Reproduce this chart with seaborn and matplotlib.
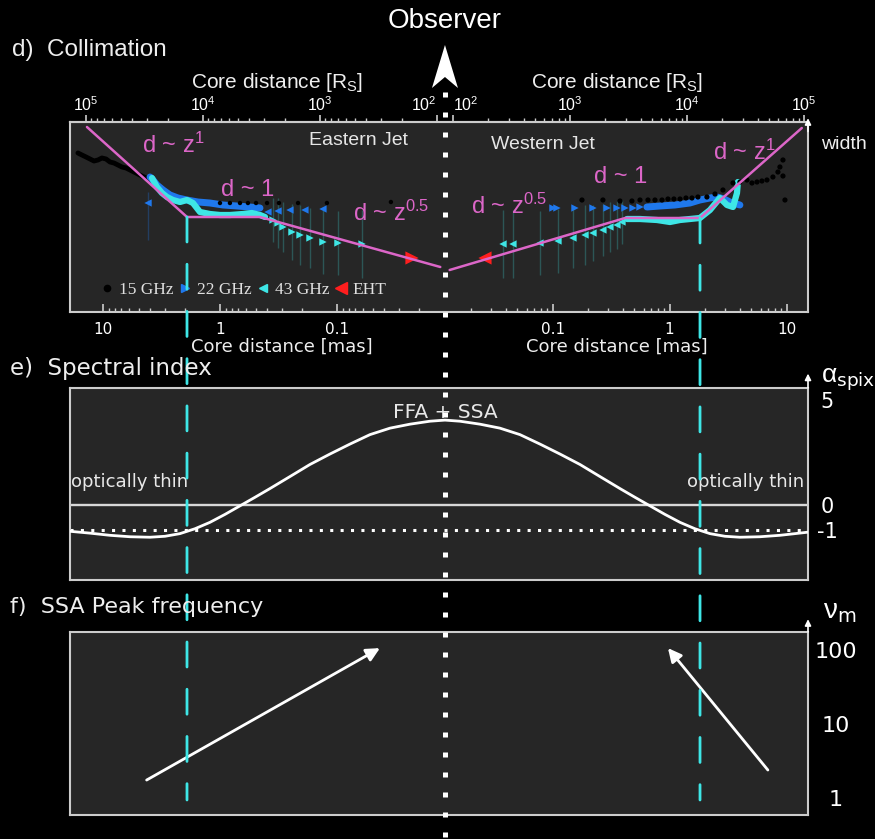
import numpy as np
import pandas as pd
import matplotlib
matplotlib.use("Agg")
import matplotlib.pyplot as plt
import seaborn as sns
from matplotlib.lines import Line2D
from matplotlib.patches import ConnectionPatch, Polygon
from matplotlib.transforms import blended_transform_factory, IdentityTransform
from matplotlib.ticker import FixedLocator, NullLocator

# ---------------------------------------------------------------------------
# Data.  Positions along the jet are in dex from the core
# (negative = eastern jet, positive = western jet); widths are log widths
# in arbitrary units.
# ---------------------------------------------------------------------------
RS_CORE_LOG = 1.93      # log10 core distance [Rs] at the core marker
MAS_CORE_LOG = -1.92    # log10 core distance [mas] at the core marker

rs_major = [1e2, 1e3, 1e4, 1e5]
rs_labels = ["$10^{2}$", "$10^{3}$", "$10^{4}$", "$10^{5}$"]
mas_major = [0.1, 1, 10]
mas_labels = ["0.1", "1", "10"]

# collimation profile model (pink broken power law)
model_east_pos = [-3.06, -2.205, -1.58, -0.04]
model_east_w = [1.85, 0.95, 0.95, 0.45]
model_west_pos = [0.04, 1.54, 2.18, 3.05]
model_west_w = [0.42, 0.94, 0.94, 1.84]

# 15 GHz
east_15_band_pos = [-3.137, -3.103, -3.068, -3.034, -3.0, -2.966, -2.932, -2.897, -2.863,
                    -2.829, -2.795, -2.761, -2.726, -2.692, -2.658, -2.624, -2.59, -2.556, -2.521]
east_15_band_w = [1.59, 1.57, 1.55, 1.53, 1.51, 1.52, 1.54, 1.53, 1.50,
                  1.49, 1.47, 1.45, 1.44, 1.42, 1.40, 1.38, 1.36, 1.34, 1.31]
east_15_pos = [-1.923, -1.838, -1.752, -1.684, -1.615, -1.521, -1.419, -1.256, -1.009, -0.462]
east_15_w = [1.09, 1.09, 1.09, 1.09, 1.09, 1.09, 1.09, 1.09, 1.09, 1.10]
west_15_pos = [1.171, 1.350, 1.496, 1.598, 1.667, 1.735, 1.795, 1.855, 1.906, 1.957, 2.009,
               2.060, 2.111, 2.162, 2.239, 2.308, 2.376, 2.462, 2.521, 2.581, 2.624, 2.667,
               2.709, 2.752, 2.803, 2.846, 2.863, 2.889, 2.889, 2.906]
west_15_w = [1.12, 1.12, 1.11, 1.11, 1.12, 1.12, 1.12, 1.12, 1.13, 1.13, 1.13,
             1.14, 1.14, 1.15, 1.15, 1.18, 1.22, 1.29, 1.30, 1.32, 1.29, 1.30,
             1.31, 1.32, 1.35, 1.40, 1.45, 1.52, 1.36, 1.12]

# 22 GHz
east_22_band_pos = [-2.521, -2.496, -2.462, -2.41, -2.35, -2.282, -2.205, -2.111, -2.009,
                    -1.897, -1.778, -1.667, -1.581]
east_22_band_w = [1.35, 1.32, 1.27, 1.22, 1.17, 1.14, 1.12, 1.10, 1.09, 1.07, 1.06, 1.05, 1.04]
east_22_pos = [-2.538, -1.513, -1.427, -1.325, -1.197, -1.043]
east_22_w = [1.09, 1.00, 1.01, 1.02, 1.02, 1.03]
west_22_pos = [0.923, 0.957, 1.111, 1.265, 1.385, 1.470, 1.538, 1.607, 1.667]
west_22_w = [1.04, 1.04, 1.04, 1.04, 1.04, 1.04, 1.04, 1.04, 1.05]
west_22_band_pos = [1.726, 1.838, 1.966, 2.094, 2.179, 2.265, 2.325, 2.385, 2.436, 2.521]
west_22_band_w = [1.05, 1.06, 1.07, 1.09, 1.12, 1.14, 1.15, 1.13, 1.10, 1.07]

# 43 GHz
east_43_band_pos = [-2.504, -2.462, -2.419, -2.376, -2.325, -2.265, -2.205, -2.154, -2.094,
                    -2.009, -1.923, -1.838, -1.726, -1.65, -1.581, -1.538]
east_43_band_w = [1.34, 1.25, 1.19, 1.15, 1.12, 1.10, 1.12, 1.09, 1.00,
                  0.98, 0.97, 0.97, 0.98, 0.99, 0.97, 0.95]
east_43_pos = [-1.470, -1.427, -1.385, -1.308, -1.239, -1.154, -1.043, -0.915, -0.709]
east_43_w = [0.92, 0.89, 0.85, 0.80, 0.77, 0.74, 0.70, 0.69, 0.68]
east_43_err = [0.22, 0.25, 0.25, 0.28, 0.30, 0.30, 0.32, 0.32, 0.34]
west_43_pos = [0.496, 0.581, 0.812, 0.966, 1.094, 1.197, 1.265, 1.350, 1.410, 1.470, 1.513]
west_43_w = [0.68, 0.68, 0.69, 0.71, 0.74, 0.77, 0.79, 0.82, 0.85, 0.87, 0.90]
west_43_err = [0.34, 0.34, 0.32, 0.32, 0.30, 0.30, 0.28, 0.26, 0.25, 0.24, 0.22]
west_43_band_pos = [1.556, 1.667, 1.812, 1.923, 2.009, 2.094, 2.179, 2.265, 2.35, 2.385,
                    2.41, 2.462, 2.496, 2.504]
west_43_band_w = [0.93, 0.93, 0.92, 0.90, 0.92, 0.93, 0.94, 1.02, 1.14, 1.10,
                  1.07, 1.05, 1.19, 1.30]

# EHT
eht_east_pos, eht_east_w = [-0.282], [0.54]
eht_west_pos, eht_west_w = [0.342], [0.54]

# spectral index along the jet
spix_pos = [-3.214, -3.034, -2.863, -2.692, -2.521, -2.393, -2.265, -2.137, -2.009, -1.880,
            -1.752, -1.624, -1.496, -1.325, -1.154, -0.983, -0.812, -0.641, -0.470, -0.299,
            -0.128, 0.0,
            0.128, 0.299, 0.470, 0.641, 0.812, 0.983, 1.154, 1.325, 1.496, 1.624, 1.752,
            1.880, 2.009, 2.137, 2.265, 2.393, 2.521, 2.692, 2.863, 2.974, 3.103]
spix_val = [-1.04, -1.12, -1.21, -1.27, -1.29, -1.25, -1.14, -0.94, -0.68, -0.36,
            -0.02, 0.32, 0.67, 1.16, 1.67, 2.13, 2.59, 3.05, 3.38, 3.59,
            3.75, 3.81,
            3.75, 3.59, 3.38, 3.05, 2.59, 2.13, 1.67, 1.16, 0.67, 0.32, -0.02,
            -0.36, -0.68, -0.94, -1.14, -1.25, -1.29, -1.27, -1.21, -1.15, -1.08]
spix_ticks = [5, 0, -1]

# SSA peak frequency trends (start, end)
nu_east_pos, nu_east = [-2.55, -0.556], [1.75, 106]
nu_west_pos, nu_west = [2.76, 1.906], [2.39, 106]
nu_ticks = [1, 10, 100]

# ---------------------------------------------------------------------------
sns.set_theme(style="dark")
BG = "#262626"
EDGE = "#cccccc"
PINK = "#dc66c8"
BLUE = "#1f78ec"
CYAN = "#3ee6e6"
RED = "#ff1e1e"
plt.rcParams.update({
    "figure.facecolor": "black",
    "savefig.facecolor": "black",
    "axes.facecolor": BG,
    "axes.edgecolor": EDGE,
    "axes.linewidth": 1.5,
    "text.color": "white",
    "mathtext.default": "regular",
})
plt.rcParams["font.family"] = ["Liberation Sans", "DejaVu Sans"]
WIDE = ["DejaVu Sans"]

W, H = 875, 839
fig = plt.figure(figsize=(W / 100, H / 100), dpi=100)


def box(x0, y0, x1, y1):
    return [x0 / W, 1 - y1 / H, (x1 - x0) / W, (y1 - y0) / H]


ax_d = fig.add_axes(box(70, 122, 808, 312))
ax_e = fig.add_axes(box(70, 388, 808, 580))
ax_f = fig.add_axes(box(70, 632, 808, 815))
XLIM = (-3.205, 3.103)
for ax in (ax_d, ax_e, ax_f):
    ax.set_xlim(*XLIM)
    ax.set_facecolor(BG)
    for s in ax.spines.values():
        s.set_color(EDGE)
        s.set_linewidth(1.5)
        s.set_visible(True)
    ax.set_xlabel("")
    ax.set_ylabel("")


def mirrored(values, core_log):
    pos = [-(np.log10(v) - core_log) for v in values]
    pos += [np.log10(v) - core_log for v in values]
    return pos


def minor_positions(decades, core_log):
    vals = [m * d for d in decades for m in range(2, 10)]
    return [p for p in mirrored(vals, core_log) if XLIM[0] < p < XLIM[1]]


# ---------------- panel d: collimation ----------------
ax_d.set_ylim(0, 1.9)
ax_d.set_yticks([])

# bottom axis: core distance in mas
ax_d.set_xticks(mirrored(mas_major, MAS_CORE_LOG), mas_labels * 2)
ax_d.xaxis.set_minor_locator(FixedLocator(minor_positions([0.01, 0.1, 1, 10], MAS_CORE_LOG)))
ax_d.tick_params(axis="x", which="both", direction="in", bottom=True, color=EDGE,
                 labelcolor="white", labelsize=11, pad=7)
ax_d.tick_params(axis="x", which="major", length=6, width=1.2)
ax_d.tick_params(axis="x", which="minor", length=3, width=1)
for t in ax_d.get_xticklabels():
    t.set_fontfamily(WIDE)

# top axis: core distance in Rs
top = ax_d.secondary_xaxis("top")
top.set_xticks(mirrored(rs_major, RS_CORE_LOG), rs_labels * 2)
top.xaxis.set_minor_locator(FixedLocator(minor_positions([1e2, 1e3, 1e4], RS_CORE_LOG)))
top.tick_params(axis="x", which="both", direction="out", color=EDGE,
                labelcolor="white", labelsize=11.5, pad=1)
top.tick_params(axis="x", which="major", length=5, width=1.2)
top.tick_params(axis="x", which="minor", length=3, width=1)
top.spines["top"].set_color(EDGE)
top_labels = top.get_xticklabels()
top_labels[0].set_ha("right")      # innermost eastern label sits left of the core line
top_labels[4].set_ha("left")       # innermost western label sits right of it

# error bars
ax_d.vlines(east_43_pos, np.array(east_43_w) - np.array(east_43_err),
            np.array(east_43_w) + np.array(east_43_err), color=CYAN, alpha=0.25, lw=1, zorder=2)
ax_d.vlines(west_43_pos, np.array(west_43_w) - np.array(west_43_err),
            np.array(west_43_w) + np.array(west_43_err), color=CYAN, alpha=0.25, lw=1, zorder=2)
ax_d.vlines(east_22_pos[:1], [0.72], [1.2], color=BLUE, alpha=0.3, lw=1, zorder=2)

# dense bands
sns.lineplot(x=east_15_band_pos, y=east_15_band_w, ax=ax_d, color="black", lw=3.5,
             sort=False, estimator=None, legend=False, zorder=3)
sns.lineplot(x=east_22_band_pos, y=east_22_band_w, ax=ax_d, color=BLUE, lw=5,
             sort=False, estimator=None, legend=False, zorder=3)
sns.lineplot(x=west_22_band_pos, y=west_22_band_w, ax=ax_d, color=BLUE, lw=5,
             sort=False, estimator=None, legend=False, zorder=3)
sns.lineplot(x=east_43_band_pos, y=east_43_band_w, ax=ax_d, color=CYAN, lw=4.5,
             sort=False, estimator=None, legend=False, zorder=3.5)
sns.lineplot(x=west_43_band_pos, y=west_43_band_w, ax=ax_d, color=CYAN, lw=4.5,
             sort=False, estimator=None, legend=False, zorder=3.5)

# individual measurements
sns.scatterplot(x=east_15_pos, y=east_15_w, ax=ax_d, color="black", s=10, marker="o",
                edgecolor="none", legend=False, zorder=4)
sns.scatterplot(x=west_15_pos, y=west_15_w, ax=ax_d, color="black", s=14, marker="o",
                edgecolor="none", legend=False, zorder=4)
sns.scatterplot(x=east_22_pos, y=east_22_w, ax=ax_d, color=BLUE, s=28, marker="<",
                edgecolor="none", legend=False, zorder=4)
sns.scatterplot(x=west_22_pos, y=west_22_w, ax=ax_d, color=BLUE, s=28, marker=">",
                edgecolor="none", legend=False, zorder=4)
sns.scatterplot(x=east_43_pos, y=east_43_w, ax=ax_d, color=CYAN, s=28, marker=">",
                edgecolor="none", legend=False, zorder=4)
sns.scatterplot(x=west_43_pos, y=west_43_w, ax=ax_d, color=CYAN, s=28, marker="<",
                edgecolor="none", legend=False, zorder=4)
sns.scatterplot(x=eht_east_pos, y=eht_east_w, ax=ax_d, color=RED, s=90, marker=">",
                edgecolor="none", legend=False, zorder=4.5)
sns.scatterplot(x=eht_west_pos, y=eht_west_w, ax=ax_d, color=RED, s=90, marker="<",
                edgecolor="none", legend=False, zorder=4.5)

# broken power-law model
sns.lineplot(x=model_east_pos, y=model_east_w, ax=ax_d, color=PINK, lw=1.8,
             sort=False, estimator=None, legend=False, zorder=5)
sns.lineplot(x=model_west_pos, y=model_west_w, ax=ax_d, color=PINK, lw=1.8,
             sort=False, estimator=None, legend=False, zorder=5)

pk = dict(color=PINK, fontsize=17, ha="center", va="center", zorder=6)
ax_d.text(-2.32, 1.67, "d ~ z$^{1}$", **pk)
ax_d.text(-1.69, 1.22, "d ~ 1", **pk)
ax_d.text(-0.46, 0.99, "d ~ z$^{0.5}$", **pk)
ax_d.text(0.55, 1.06, "d ~ z$^{0.5}$", **pk)
ax_d.text(1.50, 1.35, "d ~ 1", **pk)
ax_d.text(2.56, 1.60, "d ~ z$^{1}$", **pk)
ax_d.text(-0.74, 1.71, "Eastern Jet", color="#e6e6e6", fontsize=14, ha="center", va="center")
ax_d.text(0.84, 1.67, "Western Jet", color="#e6e6e6", fontsize=14, ha="center", va="center")

handles = [
    Line2D([], [], ls="", marker="o", ms=4.5, color="black"),
    Line2D([], [], ls="", marker=">", ms=6, color=BLUE),
    Line2D([], [], ls="", marker="<", ms=6, color=CYAN),
    Line2D([], [], ls="", marker="<", ms=8, color=RED),
]
ax_d.legend(handles, ["15 GHz", "22 GHz", "43 GHz", "EHT"], ncol=4, loc="lower left",
            bbox_to_anchor=(0.033, 0.035), frameon=False, borderaxespad=0,
            prop={"family": "Liberation Serif", "size": 12.5}, labelcolor="#e0e0e0",
            handlelength=0.7, handletextpad=0.3, columnspacing=0.35)

ax_d.text(0.2805, 1.21, "Core distance [R$_{S}$]", transform=ax_d.transAxes,
          ha="center", va="center", fontsize=15, color="#eeeeee")
ax_d.text(0.741, 1.21, "Core distance [R$_{S}$]", transform=ax_d.transAxes,
          ha="center", va="center", fontsize=15, color="#eeeeee")
ax_d.text(0.287, -0.184, "Core distance [mas]", transform=ax_d.transAxes,
          ha="center", va="center", fontsize=13, family=WIDE, color="#eeeeee")
ax_d.text(0.741, -0.184, "Core distance [mas]", transform=ax_d.transAxes,
          ha="center", va="center", fontsize=13, family=WIDE, color="#eeeeee")
ax_d.text(1.049, 0.879, "width", transform=ax_d.transAxes, ha="center", va="center",
          fontsize=14, color="#eeeeee")

# ---------------- panel e: spectral index ----------------
ax_e.set_yscale("asinh", linear_width=4)
ax_e.set_ylim(-3.25, 5.8)
ax_e.set_xticks([])
ax_e.axhline(0, color="#d8d8d8", lw=1.7, zorder=2)
ax_e.axhline(-1, color="white", lw=2.2, ls=(0, (1, 2.4)), zorder=2)
sns.lineplot(x=spix_pos, y=spix_val, ax=ax_e, color="white", lw=2,
             sort=False, estimator=None, legend=False, zorder=3)
ax_e.yaxis.tick_right()
ax_e.set_yticks(spix_ticks, [str(t) for t in spix_ticks])
ax_e.yaxis.set_minor_locator(NullLocator())
ax_e.tick_params(axis="y", length=0, pad=14, labelsize=15, labelcolor="white")
for t in ax_e.get_yticklabels():
    t.set_ha("center")
    t.set_fontfamily(WIDE)
ax_e.text(0, 4.24, "FFA + SSA", ha="center", va="center", fontsize=14.5,
          family=WIDE, color="#e8e8e8", zorder=4)
ax_e.text(-2.70, 0.92, "optically thin", ha="center", va="center", fontsize=13,
          family=WIDE, color="#e8e8e8", zorder=4)
ax_e.text(2.57, 0.92, "optically thin", ha="center", va="center", fontsize=13,
          family=WIDE, color="#e8e8e8", zorder=4)
ax_e.text(1.054, 1.045, r"$\alpha_{\rm spix}$", transform=ax_e.transAxes, ha="center",
          va="center", fontsize=19, color="white")

# ---------------- panel f: SSA peak frequency ----------------
ax_f.set_yscale("log")
ax_f.set_ylim(0.59, 175)
ax_f.set_xticks([])
ax_f.yaxis.tick_right()
ax_f.set_yticks(nu_ticks, [str(t) for t in nu_ticks])
ax_f.yaxis.set_minor_locator(NullLocator())
ax_f.tick_params(axis="y", length=0, pad=20, labelsize=16, labelcolor="white")
for t in ax_f.get_yticklabels():
    t.set_ha("center")
    t.set_fontfamily(WIDE)
arrow = dict(arrowstyle="-|>", color="white", lw=2, mutation_scale=20, shrinkA=0, shrinkB=0)
ax_f.annotate("", xy=(nu_east_pos[1], nu_east[1]), xytext=(nu_east_pos[0], nu_east[0]),
              arrowprops=arrow)
ax_f.annotate("", xy=(nu_west_pos[1], nu_west[1]), xytext=(nu_west_pos[0], nu_west[0]),
              arrowprops=arrow)
ax_f.text(1.043, 1.109, r"$\nu_{\rm m}$", transform=ax_f.transAxes, ha="center",
          va="center", fontsize=20, color="white")

# y-axis arrows on the right-hand spines
for ax, y0, y1 in ((ax_d, 0.95, 1.02), (ax_e, 1.0, 1.075), (ax_f, 1.0, 1.07)):
    ax.annotate("", xy=(1, y1), xytext=(1, y0), xycoords="axes fraction",
                arrowprops=dict(arrowstyle="-|>", color="white", lw=1.2,
                                mutation_scale=9, shrinkA=0, shrinkB=0),
                annotation_clip=False)

# ---------------- figure-level decorations ----------------
fig.text(12 / W, 1 - 50 / H, "d)  Collimation", fontsize=17.5, va="center", color="#eeeeee")
fig.text(10 / W, 1 - 368 / H, "e)  Spectral index", fontsize=16.5, va="center",
         family=WIDE, color="#eeeeee")
fig.text(10 / W, 1 - 607 / H, "f)  SSA Peak frequency", fontsize=16, va="center",
         family=WIDE, color="#eeeeee")

# break positions of the collimation profile, carried down through all panels
for bx, by in ((model_east_pos[1], model_east_w[1]), (model_west_pos[2], model_west_w[2])):
    con = ConnectionPatch(xyA=(bx, by), coordsA=ax_d.transData,
                          xyB=(bx, 0.082), coordsB=ax_f.get_xaxis_transform(),
                          color=CYAN, lw=2, linestyle=(0, (9, 8)))
    fig.add_artist(con)

# line of sight to the observer through the core
core_x = ax_d.transData.transform((0, 0))[0]
trans = blended_transform_factory(ax_d.transData, fig.transFigure)
fig.add_artist(Line2D([0, 0], [1 - 92 / H, 0], transform=trans, color="white",
                      lw=3.6, ls=(0, (1, 3)), dash_capstyle="butt", zorder=5))
fig.add_artist(Polygon([(core_x, H - 45), (core_x + 13, H - 88), (core_x, H - 77),
                        (core_x - 13, H - 88)], closed=True, facecolor="white",
                       edgecolor="none", transform=IdentityTransform()))
fig.text(core_x / W, 1 - 21 / H, "Observer", ha="center", va="center", fontsize=20,
         color="white")

fig.savefig("out.png", dpi=100)
